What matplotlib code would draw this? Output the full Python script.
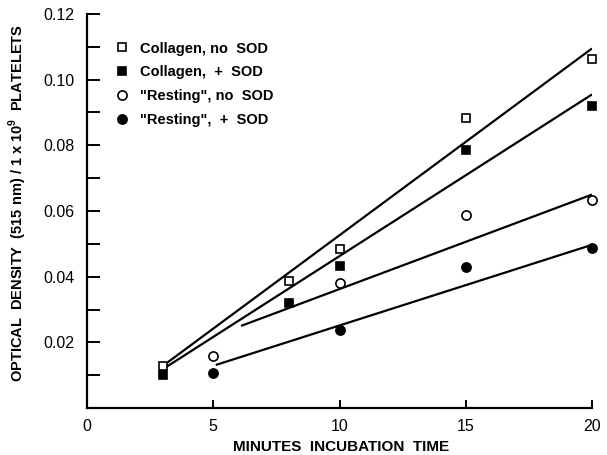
import matplotlib
matplotlib.use("Agg")
import matplotlib.pyplot as plt
from matplotlib.ticker import MultipleLocator

plt.rcParams['font.family'] = ['Liberation Sans', 'DejaVu Sans']
plt.rcParams['mathtext.fontset'] = 'custom'
plt.rcParams['mathtext.rm'] = 'Liberation Sans:bold'
plt.rcParams['mathtext.bf'] = 'Liberation Sans:bold'

# ---- data ----
labels = ['Collagen, no  SOD', 'Collagen,  +  SOD', '"Resting", no  SOD', '"Resting",  +  SOD']

coll_no_x = [3, 8, 10, 15, 20]
coll_no_y = [0.0128, 0.0387, 0.0485, 0.0884, 0.1064]

coll_sod_x = [3, 8, 10, 15, 20]
coll_sod_y = [0.0101, 0.0321, 0.0433, 0.0785, 0.0921]

rest_no_x = [5, 10, 15, 20]
rest_no_y = [0.0159, 0.0381, 0.0589, 0.0634]

rest_sod_x = [5, 10, 15, 20]
rest_sod_y = [0.0108, 0.0238, 0.0429, 0.0487]

# fitted lines (start, end)
fit_coll_no_x = [3, 20]
fit_coll_no_y = [0.0128, 0.1095]
fit_coll_sod_x = [3, 20]
fit_coll_sod_y = [0.0118, 0.0955]
fit_rest_no_x = [6.1, 20]
fit_rest_no_y = [0.0250, 0.0650]
fit_rest_sod_x = [5.1, 20]
fit_rest_sod_y = [0.0131, 0.0497]

xticks = [0, 5, 10, 15, 20]
yticks = [0.02, 0.04, 0.06, 0.08, 0.10, 0.12]
ytick_labels = ['0.02', '0.04', '0.06', '0.08', '0.10', '0.12']

fig = plt.figure(figsize=(6.07, 4.55), dpi=100)
ax = fig.add_axes([87/607, 1-408/455, 505/607, 394/455])

lw = 1.6
for fx, fy in [(fit_coll_no_x, fit_coll_no_y), (fit_coll_sod_x, fit_coll_sod_y),
               (fit_rest_no_x, fit_rest_no_y), (fit_rest_sod_x, fit_rest_sod_y)]:
    ax.plot(fx, fy, color='black', lw=lw, solid_capstyle='butt', zorder=2)

ms = 6.3
mew = 1.2
h1, = ax.plot(coll_no_x, coll_no_y, 's', ms=ms, mfc='white', mec='black', mew=mew, ls='none', zorder=3, clip_on=False)
h2, = ax.plot(coll_sod_x, coll_sod_y, 's', ms=ms, mfc='black', mec='black', mew=mew, ls='none', zorder=3, clip_on=False)
h3, = ax.plot(rest_no_x, rest_no_y, 'o', ms=ms+0.3, mfc='white', mec='black', mew=mew, ls='none', zorder=3, clip_on=False)
h4, = ax.plot(rest_sod_x, rest_sod_y, 'o', ms=ms+0.3, mfc='black', mec='black', mew=mew, ls='none', zorder=3, clip_on=False)

ax.set_xlim(0, 20)
ax.set_ylim(0, 0.12)

for s in ['top', 'right']:
    ax.spines[s].set_visible(False)
for s in ['left', 'bottom']:
    ax.spines[s].set_linewidth(1.6)

ax.set_xticks(xticks)
ax.set_xticklabels([str(t) for t in xticks])
ax.set_yticks(yticks)
ax.set_yticklabels(ytick_labels)
ax.yaxis.set_minor_locator(MultipleLocator(0.01))
ax.tick_params(axis='y', which='both', direction='in', length=9, width=1.4, pad=9, labelsize=11.5)
ax.tick_params(axis='x', which='major', direction='in', length=6, width=1.4, pad=8, labelsize=11.5)

leg = ax.legend([h1, h2, h3, h4], labels, loc='upper left', bbox_to_anchor=(0.047, 0.945),
                frameon=False, handlelength=0.8, handletextpad=0.8, labelspacing=0.68,
                prop={'size': 10.5, 'weight': 'bold'}, borderaxespad=0)

fig.text(341/607, 1-447/455, 'MINUTES  INCUBATION  TIME', ha='center', va='center',
         fontsize=11, fontweight='bold')
fig.text(18/607, 1-203/455, r'OPTICAL  DENSITY  (515 nm) / 1 x 10$^{9}$  PLATELETS', ha='center',
         va='center', rotation=90, fontsize=10.5, fontweight='bold')

fig.savefig('out.png', dpi=100)
